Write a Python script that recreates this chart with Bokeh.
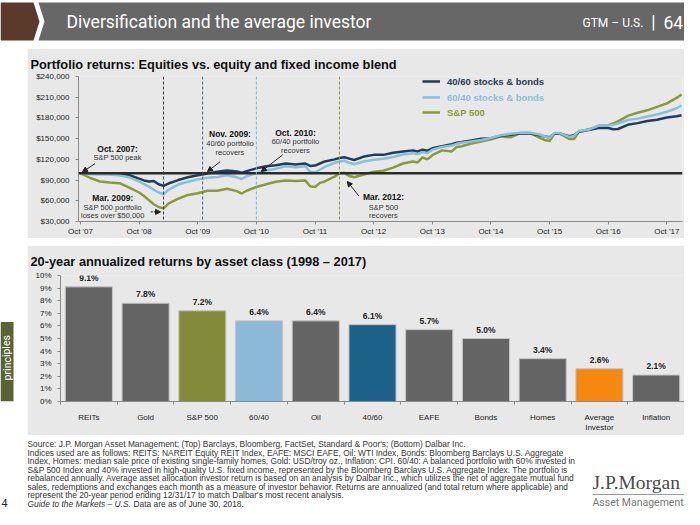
from bokeh.plotting import figure
from bokeh.models import (Range1d, FixedTicker, NumeralTickFormatter, PrintfTickFormatter,
                          Span, Label, Arrow, NormalHead, Legend, LegendItem, Spacer)
from bokeh.layouts import column, row
from bokeh.core.properties import value
from bokeh.embed import file_html
from bokeh.resources import INLINE

PANEL = "#e8e8e8"
FONT = "Liberation Sans"
AXIS = "#8a8a8a"
TXT = "#222222"

# ---------------- data: growth of $100,000 (months since Oct 2007) ----------------
months = [0, 2, 4, 6, 8, 10, 12, 13, 14, 15, 16, 17, 18, 20, 22, 24, 26, 28, 30, 32, 33, 34,
          36, 38, 40, 42, 44, 46, 47, 48, 49, 50, 52, 53, 54, 55, 56, 58, 60, 62, 64, 66,
          68, 69, 70, 71, 72, 74, 76, 77, 78, 80, 82, 84, 86, 88, 90, 92, 94, 95, 96, 97,
          98, 100, 101, 102, 104, 106, 108, 109, 110, 112, 114, 116, 118, 120, 122, 123]
stocks_40_60 = [100, 99.5, 99, 99.5, 98.5, 97, 92, 89.5, 88, 88.5, 84, 81.5, 85, 90, 94, 97,
                99.5, 102, 104, 102.5, 100.5, 103, 107, 110, 111.5, 114, 112.5, 114, 110.5,
                111, 114, 117, 120, 122, 123, 121, 119, 124, 126.5, 126.5, 129.5, 131.5, 133,
                131.5, 134, 132.5, 136, 139, 142, 144, 145, 147.5, 150, 150.5, 154, 155.5,
                157.5, 157.5, 155, 153, 152, 157, 157.5, 153.5, 155, 160, 162.5, 165.5, 165.5,
                163.5, 164, 170, 172.5, 175.5, 177.5, 180.5, 182.5, 184]
stocks_60_40 = [100, 98.5, 98, 98, 96.5, 94, 88, 84, 80.5, 76, 72, 69.5, 76, 83.5, 87.5, 91,
                93.5, 94.5, 97, 94, 91.5, 95.5, 100, 104, 106.5, 110, 108.5, 110, 102, 101,
                105, 109, 115, 117, 118, 115, 113, 117, 119.5, 121, 123.5, 127, 129, 127.5,
                130.5, 129, 134, 138, 140, 142.5, 144, 146, 148, 151, 155, 157, 158.5, 158.5,
                156, 153, 151, 158, 158, 152.5, 154, 161, 163, 168.5, 169.5, 170, 172, 177,
                179, 182, 185, 189, 194, 198]
sp500 = [100, 93, 88, 86.5, 85.5, 79, 72, 67, 61, 55, 51, 49, 56, 63, 68.5, 71, 74.5, 74.5,
         77.5, 74, 70.5, 74.5, 80, 84, 87.5, 89.5, 88.5, 89.5, 81, 80, 86, 88, 95, 100, 100.5,
         96, 94, 98, 102, 103.5, 108, 114, 117, 115.5, 123, 120, 126, 133, 131.5, 138, 139,
         143, 146, 149, 153, 152, 158, 158.5, 151, 148, 146.5, 157, 158, 149.5, 149.5, 160,
         163.5, 168.5, 169.5, 172, 175, 183, 187.5, 191, 196, 201, 209, 214]
assert len(months) == len(stocks_40_60) == len(stocks_60_40) == len(sp500)

year_ticks = [0, 12, 24, 36, 48, 60, 72, 84, 96, 108, 120]
year_labels = ["Oct '07", "Oct '08", "Oct '09", "Oct '10", "Oct '11", "Oct '12",
               "Oct '13", "Oct '14", "Oct '15", "Oct '16", "Oct '17"]
dollar_ticks = [30000, 60000, 90000, 120000, 150000, 180000, 210000, 240000]

# event months: Mar 2009, Nov 2009, Oct 2010, Mar 2012
event_months = [17, 25, 36, 53]

# ---------------- data: 20-year annualized returns ----------------
assets = ["REITs", "Gold", "S&P 500", "60/40", "Oil", "40/60", "EAFE", "Bonds", "Homes",
          "Average\nInvestor", "Inflation"]
returns = [9.1, 7.8, 7.2, 6.4, 6.4, 6.1, 5.7, 5.0, 3.4, 2.6, 2.1]
pct_ticks = list(range(0, 11))

C_NAVY = "#1f3d5c"
C_LIGHT = "#86c0de"
C_OLIVE = "#8a9a3a"
bar_colors = ["#646464", "#646464", "#838b3b", "#8cb9d6", "#646464", "#1c6288",
              "#646464", "#646464", "#646464", "#f6870f", "#646464"]


def canvas(w, h, bg="white"):
    f = figure(width=w, height=h, x_range=Range1d(0, w), y_range=Range1d(h, 0),
               x_axis_type=None, y_axis_type=None, toolbar_location=None,
               output_backend="svg", min_border=0, outline_line_color=None,
               background_fill_color=bg, border_fill_color=bg)
    return f


def lab(f, x, y, text, size, color=TXT, font=FONT, style="normal", align="left",
        baseline="middle", angle=0):
    f.add_layout(Label(x=x, y=y, text=text, text_font=font, text_font_size=size,
                       text_color=color, text_font_style=style, text_align=align,
                       text_baseline=baseline, angle=angle))


W = 684

# ---------------- header (y 0..48) ----------------
hdr = canvas(W, 48)
hdr.patch([0, 33, 39, 33, 0], [2, 2, 21, 40, 40], fill_color="#5b3a2b", line_color=None)
hdr.patch([38, W, W, 38, 44], [2, 2, 40, 40, 21], fill_color="#676767", line_color=None)
lab(hdr, 66, 21.5, "Diversification and the average investor", "17.5px", "white", "Roboto")
lab(hdr, 582, 22, "GTM – U.S.", "12px", "white", "Roboto")
lab(hdr, 653, 21, "|", "17.5px", "white", "Roboto", align="center")
lab(hdr, 663, 21.5, "64", "17.5px", "white", "Roboto")

# ---------------- top chart (x 27..684, y 48..238) ----------------
top = figure(width=W - 27, height=190, x_range=Range1d(-0.4, 123.2),
             y_range=Range1d(30000, 240000), toolbar_location=None, output_backend="svg",
             min_border_left=51, min_border_right=2, min_border_top=28, min_border_bottom=15,
             background_fill_color=PANEL, border_fill_color=PANEL, outline_line_color=None)
top.title.text = "Portfolio returns: Equities vs. equity and fixed income blend"
top.title.text_font = FONT
top.title.text_font_size = "12.8px"
top.title.text_font_style = "bold"
top.title.text_color = "#111111"
top.title.align = "left"
top.title.offset = -48
top.title.standoff = 9
top.xgrid.visible = False
top.ygrid.visible = False

top.add_layout(Span(location=100000, dimension="width", line_color="#2b2b2b", line_width=2.5))
for m, c in zip(event_months, ["#3a3a3a", "#4a6078", "#6fb6da", "#8a9a3a"]):
    top.add_layout(Span(location=m, dimension="height", line_color=c, line_width=1,
                        line_dash="3 2"))

r_sp = top.line(months, [v * 1000 for v in sp500], line_color=C_OLIVE, line_width=2.5)
r_navy = top.line(months, [v * 1000 for v in stocks_40_60], line_color=C_NAVY, line_width=2.5)
r_light = top.line(months, [v * 1000 for v in stocks_60_40], line_color=C_LIGHT, line_width=2.5)

for ax in (top.xaxis[0], top.yaxis[0]):
    ax.axis_line_color = AXIS
    ax.major_tick_line_color = AXIS
    ax.minor_tick_line_color = None
    ax.major_tick_out = 3
    ax.major_tick_in = 0
    ax.major_label_text_font = FONT
    ax.major_label_text_font_size = "8px"
    ax.major_label_text_color = TXT
top.xaxis.ticker = FixedTicker(ticks=year_ticks)
top.xaxis.major_label_overrides = {t: s for t, s in zip(year_ticks, year_labels)}
top.xaxis.major_label_standoff = 2
top.yaxis.ticker = FixedTicker(ticks=dollar_ticks)
top.yaxis.formatter = NumeralTickFormatter(format="$0,0")
top.yaxis.major_label_standoff = 6

for text, rr, col, bottom in [("40/60 stocks & bonds", r_navy, C_NAVY, 134),
                              ("60/40 stocks & bonds", r_light, C_LIGHT, 118),
                              ("S&P 500", r_sp, C_OLIVE, 103)]:
    lg = Legend(items=[LegendItem(label=text, renderers=[rr])], location=(344, bottom),
                background_fill_alpha=0, border_line_color=None, padding=0, margin=0,
                spacing=0, glyph_width=18, glyph_height=12, label_height=12,
                label_standoff=7, label_text_font=FONT, label_text_font_size="9.5px",
                label_text_font_style="bold", label_text_color=col)
    top.add_layout(lg)

notes = [
    (7.6, 135300, "Oct. 2007:", True), (7.6, 122000, "S&P 500 peak", False),
    (6.6, 63900, "Mar. 2009:", True), (6.6, 51000, "S&P 500 portfolio", False),
    (6.6, 38100, "loses over $50,000", False),
    (30.6, 157300, "Nov. 2009:", True), (30.6, 142400, "40/60 portfolio", False),
    (30.6, 129600, "recovers", False),
    (44, 158100, "Oct. 2010:", True), (44, 145300, "60/40 portfolio", False),
    (44, 132400, "recovers", False),
    (62, 65300, "Mar. 2012:", True), (62, 51000, "S&P 500", False), (62, 38100, "recovers", False),
]
for x, y, t, b in notes:
    top.add_layout(Label(x=x, y=y, text=t, text_align="center", text_baseline="middle",
                         text_font=FONT, text_font_size="8.5px" if b else "7.5px",
                         text_font_style="bold" if b else "normal",
                         text_color="#111111" if b else "#333333"))
arrows = [(3, 113900, 0.4, 101700, None), (28.6, 116700, 26, 102400, None),
          (41.4, 126700, 37, 102400, None), (57, 66700, 54.6, 88000, None),
          (14.4, 43900, 16.4, 43900, "2 1")]
for xs_, ys_, xe, ye, dash in arrows:
    a = Arrow(x_start=xs_, y_start=ys_, x_end=xe, y_end=ye, line_color="#222222", line_width=1,
              end=NormalHead(size=5, fill_color="#222222", line_color="#222222"))
    if dash:
        a.line_dash = dash
    top.add_layout(a)

# ---------------- bar chart (x 27..684, y 245..435) ----------------
xs = [i + 0.5 for i in range(len(assets))]
bar = figure(width=W - 27, height=190, x_range=Range1d(0, 11), y_range=Range1d(0, 10),
             toolbar_location=None, output_backend="svg",
             min_border_left=33, min_border_right=0, min_border_top=30, min_border_bottom=31,
             background_fill_color=PANEL, border_fill_color=PANEL, outline_line_color=None)
bar.title.text = "20-year annualized returns by asset class (1998 – 2017)"
bar.title.text_font = FONT
bar.title.text_font_size = "12.8px"
bar.title.text_font_style = "bold"
bar.title.text_color = "#111111"
bar.title.align = "left"
bar.title.offset = -30
bar.title.standoff = 13
bar.xgrid.visible = False
bar.ygrid.visible = False
bar.vbar(x=xs, top=returns, width=0.83, fill_color=bar_colors, line_color="#c4c4c4", line_width=1)
bar.text(x=xs, y=returns, text=[f"{v:.1f}%" for v in returns], text_align="center",
         text_baseline="bottom", y_offset=-4, text_font=value(FONT), text_font_size="8.5px",
         text_font_style="bold", text_color=TXT)
for ax in (bar.xaxis[0], bar.yaxis[0]):
    ax.axis_line_color = AXIS
    ax.major_label_text_font = FONT
    ax.major_label_text_font_size = "8px"
    ax.major_label_text_color = TXT
bar.xaxis.ticker = FixedTicker(ticks=xs, minor_ticks=list(range(12)))
bar.xaxis.major_label_overrides = {x: s for x, s in zip(xs, assets)}
bar.xaxis.major_tick_line_color = None
bar.xaxis.minor_tick_line_color = AXIS
bar.xaxis.minor_tick_out = 3
bar.xaxis.minor_tick_in = 0
bar.xaxis.major_label_standoff = 5
bar.yaxis.ticker = FixedTicker(ticks=pct_ticks)
bar.yaxis.formatter = PrintfTickFormatter(format="%d%%")
bar.yaxis.major_tick_line_color = AXIS
bar.yaxis.major_tick_out = 3
bar.yaxis.major_tick_in = 0
bar.yaxis.minor_tick_line_color = None
bar.yaxis.major_label_standoff = 6

# side tab (x 0..27)
tab = canvas(27, 190)
tab.quad(left=0, right=13, top=70, bottom=190, fill_color="#5b6235", line_color=None)
lab(tab, 6.5, 124, "principles", "10.5px", "white", "Roboto", align="center",
    baseline="middle", angle=1.5708)

# ---------------- footer (y 435..509) ----------------
foot = canvas(W, 74)
lab(foot, 1, 67, "4", "11px", TXT, FONT)
lines = [
    "Source: J.P. Morgan Asset Management; (Top) Barclays, Bloomberg, FactSet, Standard & Poor's; (Bottom) Dalbar Inc.",
    "Indices used are as follows: REITS: NAREIT Equity REIT Index, EAFE: MSCI EAFE, Oil: WTI Index, Bonds: Bloomberg Barclays U.S. Aggregate",
    "Index, Homes: median sale price of existing single-family homes, Gold: USD/troy oz., Inflation: CPI. 60/40: A balanced portfolio with 60% invested in",
    "S&P 500 Index and 40% invested in high-quality U.S. fixed income, represented by the Bloomberg Barclays U.S. Aggregate Index. The portfolio is",
    "rebalanced annually. Average asset allocation investor return is based on an analysis by Dalbar Inc., which utilizes the net of aggregate mutual fund",
    "sales, redemptions and exchanges each month as a measure of investor behavior. Returns are annualized (and total return where applicable) and",
    "represent the 20-year period ending 12/31/17 to match Dalbar's most recent analysis.",
]
for i, t in enumerate(lines):
    lab(foot, 27, 8.5 + 8.5 * i, t, "8.4px", "#333333")
lab(foot, 27, 8.5 + 8.5 * 7, "Guide to the Markets – U.S.", "8.4px", "#333333", style="italic")
lab(foot, 133, 8.5 + 8.5 * 7, "Data are as of June 30, 2018.", "8.4px", "#333333")
lab(foot, 592, 47, "J.P.Morgan", "19.5px", "#4a4a4a", "Liberation Serif")
foot.line([592, W], [59, 59], line_color="#9a9a9a", line_width=1)
lab(foot, 592, 66.5, "Asset Management", "10.5px", "#777777", "Roboto")

layout = column(hdr, row(Spacer(width=27, height=190), top), Spacer(width=W, height=7),
                row(tab, bar), foot)

open("out.html", "w").write(file_html(layout, INLINE))
